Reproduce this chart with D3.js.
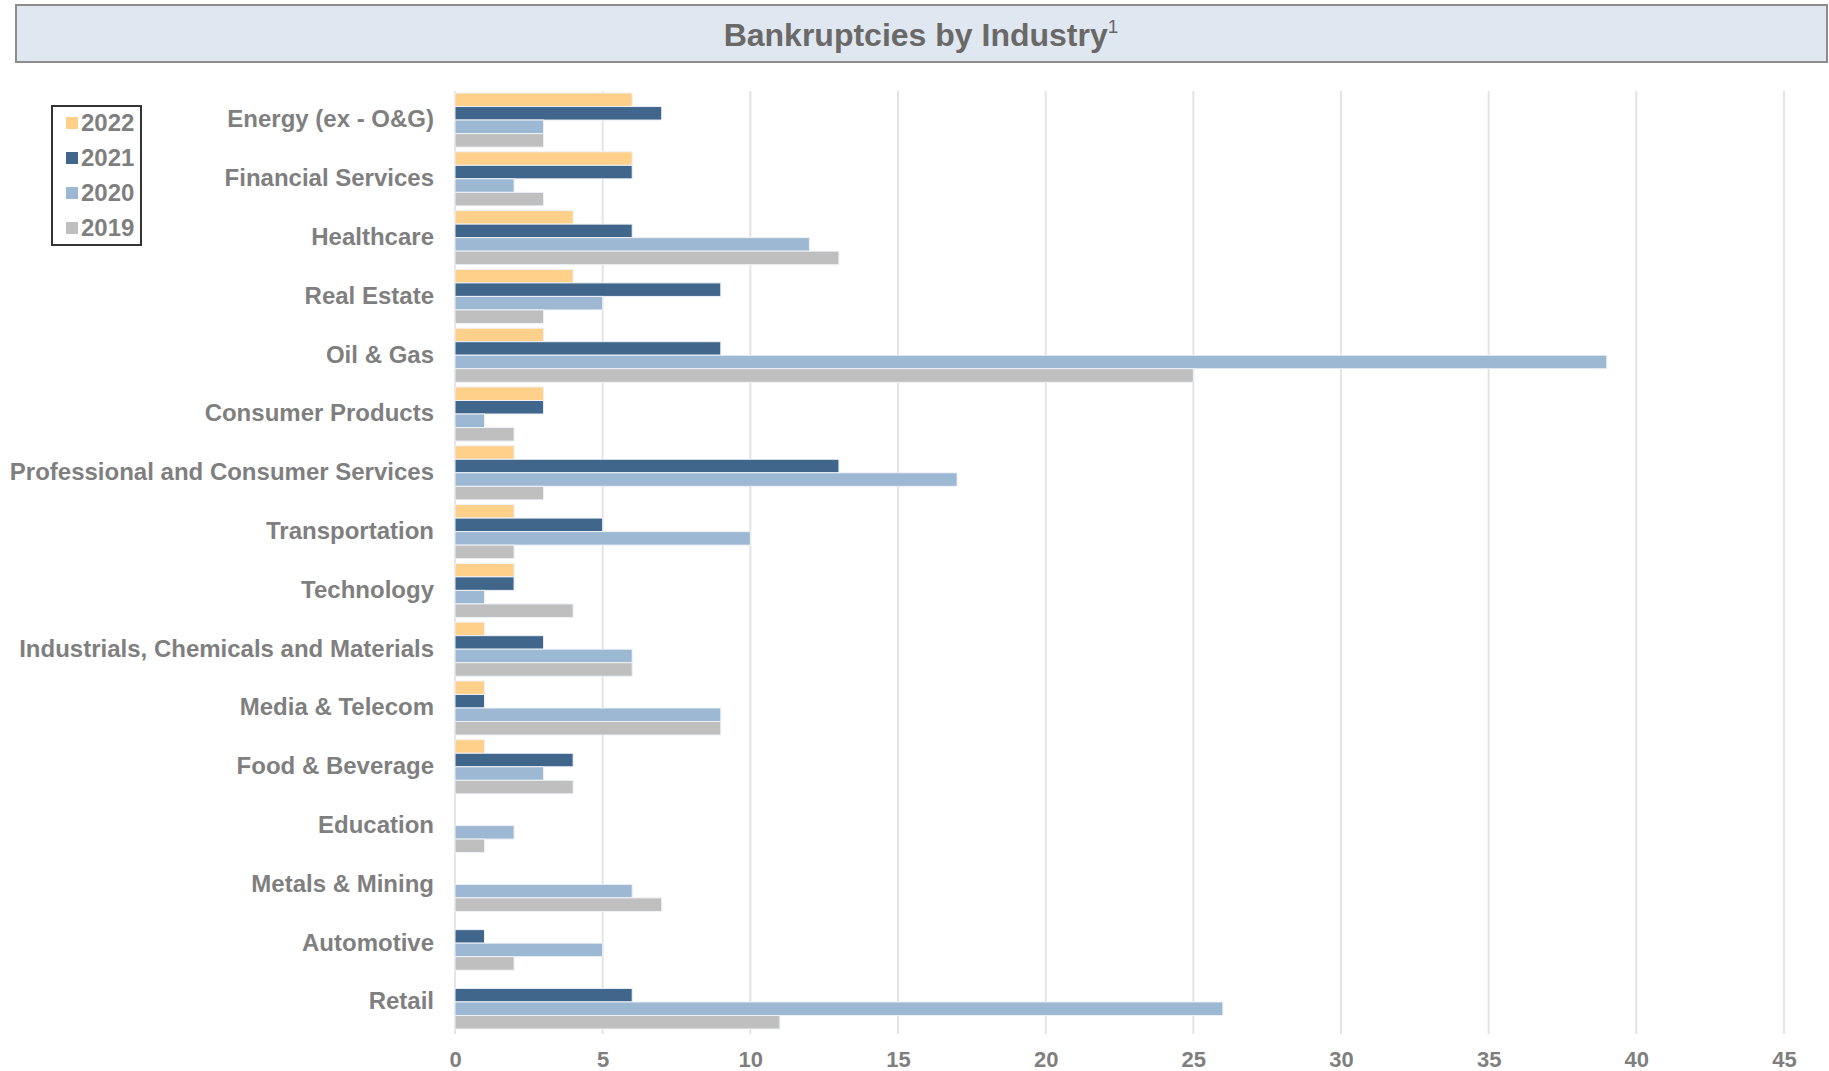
<!DOCTYPE html>
<html>
<head>
<meta charset="utf-8">
<script src="https://cdn.jsdelivr.net/npm/d3@7"></script>
<style>
  body { margin: 0; background: #fff; }
  svg { font-family: "Liberation Sans", Arial, sans-serif; }
</style>
</head>
<body>
<svg width="1829" height="1071"></svg>
<script>
// categories, top to bottom
var industries = ["Energy (ex - O&G)", "Financial Services", "Healthcare", "Real Estate", "Oil & Gas",
    "Consumer Products", "Professional and Consumer Services", "Transportation", "Technology",
    "Industrials, Chemicals and Materials", "Media & Telecom", "Food & Beverage", "Education",
    "Metals & Mining", "Automotive", "Retail"];
var years = ["2022", "2021", "2020", "2019"];
var v2022 = [6, 6, 4, 4, 3, 3, 2, 2, 2, 1, 1, 1, 0, 0, 0, 0];
var v2021 = [7, 6, 6, 9, 9, 3, 13, 5, 2, 3, 1, 4, 0, 0, 1, 6];
var v2020 = [3, 2, 12, 5, 39, 1, 17, 10, 1, 6, 9, 3, 2, 6, 5, 26];
var v2019 = [3, 3, 13, 3, 25, 2, 3, 2, 4, 6, 9, 4, 1, 7, 2, 11];
var xTicks = [0, 5, 10, 15, 20, 25, 30, 35, 40, 45];

var colors = {"2022": "#ffd08a", "2021": "#41668c", "2020": "#9db8d2", "2019": "#bfbfbf"};
var series = {"2022": v2022, "2021": v2021, "2020": v2020, "2019": v2019};

var svg = d3.select("svg");
var margin = {top: 93, left: 455};

// title banner
svg.append("rect")
    .attr("x", 16).attr("y", 5).attr("width", 1811).attr("height", 57)
    .attr("fill", "#dfe7f0").attr("stroke", "#8c8c8c").attr("stroke-width", 2);
var title = svg.append("text")
    .attr("x", 921).attr("y", 46)
    .attr("text-anchor", "middle")
    .attr("font-size", 32).attr("font-weight", "bold").attr("fill", "#6b6868");
title.append("tspan").text("Bankruptcies by Industry");
title.append("tspan").attr("font-size", 19).attr("font-weight", "normal").attr("dy", -13).text("1");

// scales
var x = d3.scaleLinear().domain([0, 45]).range([margin.left, 1784]);
var y0 = d3.scaleBand().domain(industries)
    .range([margin.top, 1029]).paddingInner(0.08).paddingOuter(0);
var y1 = d3.scaleBand().domain(years).range([0, y0.bandwidth()]);

// gridlines
svg.append("g").selectAll("line")
    .data(xTicks).enter()
    .append("line")
    .attr("x1", d => x(d)).attr("x2", d => x(d))
    .attr("y1", margin.top - 2).attr("y2", 1034)
    .attr("stroke", "#e4e4e4").attr("stroke-width", 2);

// bars
var rows = industries.map((name, i) => ({name: name, i: i}));
var groups = svg.append("g").selectAll("g")
    .data(rows).enter()
    .append("g")
    .attr("transform", d => "translate(0," + y0(d.name) + ")");
groups.selectAll("rect")
    .data(d => years.map(yr => ({year: yr, value: series[yr][d.i]})))
    .enter()
    .filter(d => d.value > 0)
    .append("rect")
    .attr("x", x(0))
    .attr("y", d => y1(d.year))
    .attr("width", d => x(d.value) - x(0))
    .attr("height", y1.bandwidth())
    .attr("fill", d => colors[d.year])
    .attr("stroke", "#eef2f6").attr("stroke-width", 1);

// category labels
svg.append("g").selectAll("text")
    .data(industries).enter()
    .append("text")
    .attr("x", 434)
    .attr("y", d => y0(d) + y0.bandwidth() / 2 - 1)
    .attr("dy", "0.35em")
    .attr("text-anchor", "end")
    .attr("font-size", 24).attr("font-weight", "bold").attr("fill", "#7f7f7f")
    .text(d => d);

// x axis labels
var xAxis = d3.axisBottom(x).tickValues(xTicks).tickSize(0).tickPadding(0);
var gx = svg.append("g")
    .attr("transform", "translate(0,1051)")
    .call(xAxis);
gx.select(".domain").remove();
gx.selectAll("text")
    .attr("font-family", "'Liberation Sans', Arial, sans-serif")
    .attr("font-size", 22).attr("font-weight", "bold").attr("fill", "#7f7f7f");

// legend
var lg = svg.append("g");
lg.append("rect")
    .attr("x", 52).attr("y", 106).attr("width", 89).attr("height", 139)
    .attr("fill", "#fff").attr("stroke", "#333").attr("stroke-width", 2);
var items = lg.selectAll("g.item")
    .data(years).enter()
    .append("g")
    .attr("transform", (d, i) => "translate(66," + (123 + i * 35) + ")");
items.append("rect")
    .attr("x", 0).attr("y", -6).attr("width", 12).attr("height", 12)
    .attr("fill", d => colors[d]);
items.append("text")
    .attr("x", 15).attr("dy", "0.35em")
    .attr("font-size", 24).attr("font-weight", "bold").attr("fill", "#7f7f7f")
    .text(d => d);
</script>
</body>
</html>
